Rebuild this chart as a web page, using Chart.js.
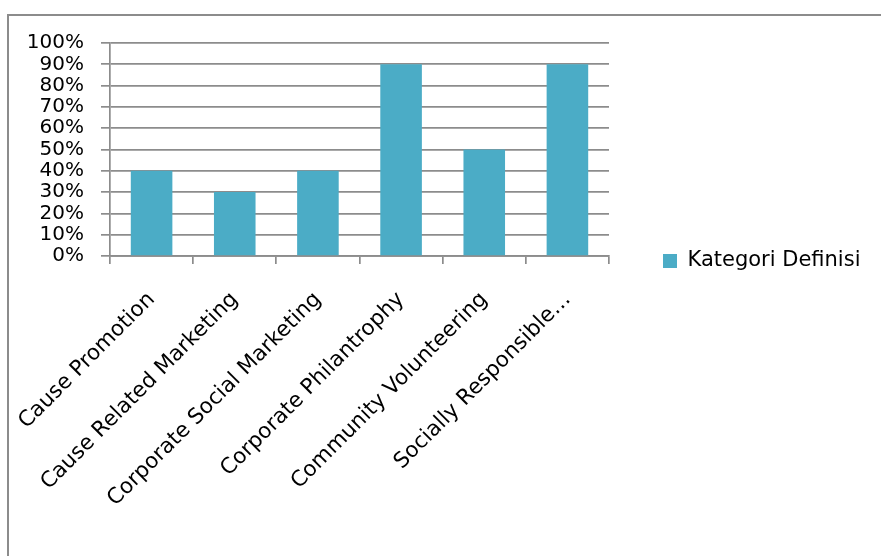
<!DOCTYPE html>
<html>
<head>
<meta charset="utf-8">
<script src="https://cdn.jsdelivr.net/npm/chart.js@4/dist/chart.umd.min.js"></script>
<style>
  html, body { margin: 0; padding: 0; background: #ffffff; overflow: hidden; }
  #frame { position: absolute; left: 7px; top: 14px; width: 920px; height: 620px; border: 2px solid #8c8c8c; }
  #c { position: absolute; left: 0; top: 0; }
</style>
</head>
<body>
<div id="frame"></div>
<canvas id="c" width="881" height="556"></canvas>
<script>
const categories = [
  "Cause Promotion",
  "Cause Related Marketing",
  "Corporate Social Marketing",
  "Corporate Philantrophy",
  "Community Volunteering",
  "Socially Responsible\u2026"
];
const seriesName = "Kategori Definisi";
const seriesValues = [40, 30, 40, 90, 50, 90];
const yTickMax = 100;
const yTickStep = 10;

const FONT = '"DejaVu Sans", sans-serif';
const FS_Y = 20, FS_X = 21.5, FS_LEG = 21;
const PLOT_LEFT = 110, PLOT_RIGHT = 609, PLOT_TOP = 43, PLOT_BOTTOM = 256;
const LEG_PAD = 54, BOX_W = 14;
const W = 881, H = 556;
const LEG_CENTER_Y = 261;

const m = document.createElement('canvas').getContext('2d');
m.font = FS_LEG + 'px ' + FONT;
const tw = m.measureText(seriesName).width;
const legendWidth = LEG_PAD + BOX_W + FS_LEG / 2 + tw + 10;
const padRight = Math.max(0, W - PLOT_RIGHT - legendWidth);
const padTop = 0;
const padBottom = H - 2 * LEG_CENTER_Y;

const GRID = '#8c8c8c';

new Chart(document.getElementById('c'), {
  type: 'bar',
  data: {
    labels: categories,
    datasets: [{
      label: seriesName,
      data: seriesValues,
      backgroundColor: '#4BACC6',
      borderWidth: 0,
      barPercentage: 0.5,
      categoryPercentage: 1.0
    }]
  },
  options: {
    responsive: false,
    animation: false,
    devicePixelRatio: 1,
    layout: { padding: { left: 0, right: padRight, top: padTop, bottom: padBottom } },
    plugins: {
      legend: {
        position: 'right',
        align: 'center',
        maxWidth: 2000,
        labels: {
          boxWidth: BOX_W,
          boxHeight: BOX_W,
          padding: LEG_PAD,
          color: '#000000',
          font: { family: FONT, size: FS_LEG }
        }
      },
      title: {
        display: true,
        text: ' ',
        padding: 0,
        font: { size: PLOT_TOP, lineHeight: 1 }
      },
      tooltip: { enabled: false }
    },
    scales: {
      x: {
        grid: {
          offset: true,
          drawOnChartArea: false,
          drawTicks: true,
          tickLength: 8,
          color: GRID,
          lineWidth: 1.7
        },
        border: { display: true, color: GRID, width: 1.7 },
        ticks: {
          autoSkip: false,
          maxRotation: 45,
          minRotation: 45,
          padding: 23,
          color: '#000000',
          font: { family: FONT, size: FS_X }
        },
        afterFit: (s) => {
          s.height = H - padBottom - PLOT_BOTTOM;
          s.paddingLeft = 0;
          s.paddingRight = 0;
        }
      },
      y: {
        min: 0,
        max: yTickMax,
        grid: {
          color: GRID,
          lineWidth: 1.7,
          drawTicks: true,
          tickLength: 9
        },
        border: { display: true, color: GRID, width: 1.7 },
        ticks: {
          stepSize: yTickStep,
          autoSkip: false,
          padding: 17,
          color: '#000000',
          font: { family: FONT, size: FS_Y, lineHeight: 1 },
          callback: (v) => v + '%'
        },
        afterFit: (s) => { s.width = PLOT_LEFT; s.paddingTop = 0; s.paddingBottom = 0; }
      }
    }
  }
});
</script>
</body>
</html>
